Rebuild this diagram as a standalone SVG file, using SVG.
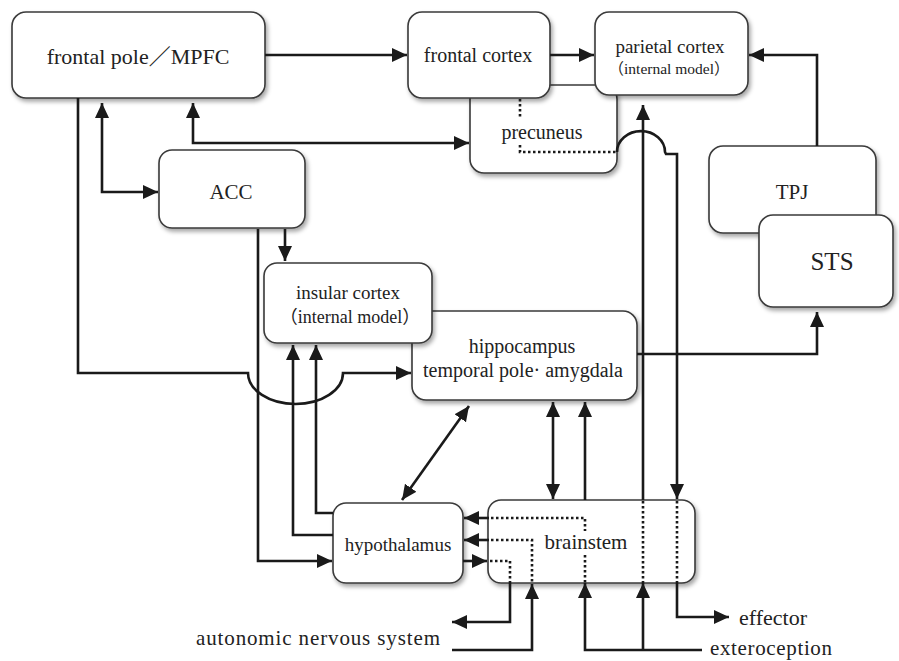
<svg xmlns="http://www.w3.org/2000/svg" width="899" height="661" viewBox="0 0 899 661">
<defs>
<filter id="sh" x="-10%" y="-10%" width="125%" height="130%">
<feDropShadow dx="2" dy="3" stdDeviation="2" flood-color="#000" flood-opacity="0.35"/>
</filter>
<marker id="ah" viewBox="0 0 15 14" refX="15" refY="7" markerWidth="15" markerHeight="14" markerUnits="userSpaceOnUse" orient="auto-start-reverse">
<path d="M0,0 L15,7 L0,14 z" fill="#1a1a1a"/>
</marker>
<style>
.box{fill:#fff;stroke:#3a3a3a;stroke-width:1.6;filter:url(#sh)}
.t{font-family:'Liberation Serif','Noto Sans CJK JP',serif;fill:#222;text-anchor:middle}
.c{fill:none;stroke:#1a1a1a;stroke-width:2.6}
.a{marker-end:url(#ah)}
.b{marker-start:url(#ah);marker-end:url(#ah)}
.d{fill:none;stroke:#1a1a1a;stroke-width:2.6;stroke-dasharray:2.5 2.5}
</style>
</defs>
<rect width="899" height="661" fill="#fff"/>

<g id="frontal-pole">
<rect class="box" x="12" y="12" width="253" height="86" rx="14"/>
<text class="t" x="138" y="64" font-size="22">frontal pole／MPFC</text>
</g>
<g id="precuneus">
<rect class="box" x="470" y="85" width="147" height="88" rx="14"/>
<text class="t" x="542" y="139" font-size="20">precuneus</text>
</g>
<g id="frontal-cortex">
<rect class="box" x="408" y="12" width="142" height="86" rx="14"/>
<text class="t" x="478" y="62" font-size="20">frontal cortex</text>
</g>
<g id="parietal-cortex">
<rect class="box" x="595" y="12" width="153" height="83" rx="14"/>
<text class="t" x="670" y="53" font-size="19">parietal cortex</text>
<text class="t" x="669" y="74" font-size="15.5">（internal model）</text>
</g>
<g id="acc">
<rect class="box" x="159" y="150" width="146" height="78" rx="13"/>
<text class="t" x="231" y="199" font-size="21">ACC</text>
</g>
<g id="tpj">
<rect class="box" x="709" y="146" width="167" height="87" rx="14"/>
<text class="t" x="792" y="199" font-size="21">TPJ</text>
</g>
<g id="sts">
<rect class="box" x="759" y="215" width="134" height="92" rx="14"/>
<text class="t" x="832" y="270" font-size="25">STS</text>
</g>
<g id="hippocampus">
<rect class="box" x="412" y="311" width="225" height="89" rx="14"/>
<text class="t" x="522" y="353" font-size="20">hippocampus</text>
<text class="t" x="523" y="377" font-size="20">temporal pole· amygdala</text>
</g>
<g id="insular-cortex">
<rect class="box" x="264" y="263" width="168" height="80" rx="13"/>
<text class="t" x="348" y="299" font-size="19">insular cortex</text>
<text class="t" x="350" y="323" font-size="18">（internal model）</text>
</g>
<g id="hypothalamus">
<rect class="box" x="333" y="503" width="130" height="80" rx="13"/>
<text class="t" x="398" y="551" font-size="19">hypothalamus</text>
</g>
<g id="brainstem">
<rect class="box" x="488" y="500" width="207" height="83" rx="13"/>
<text class="t" x="586" y="549" font-size="21">brainstem</text>
</g>

<g id="connectors">
<path class="c a" d="M265,55 H407"/>
<path class="c a" d="M550,55 H594"/>
<path class="c a" d="M817,146 V55 H749"/>
<path class="c b" d="M102,103 V192 H158"/>
<path class="c b" d="M193,103 V143 H469"/>
<path class="c a" d="M78,98 V373 H248 A47.5 31 0 0 0 343,373 H411"/>
<path class="c a" d="M285,229 V261"/>
<path class="c a" d="M258,229 V561 H332"/>
<path class="c a" d="M333,513 H316 V345"/>
<path class="c a" d="M333,535 H293 V345"/>
<path class="c a" d="M637,354 H817 V312"/>
<path class="c b" d="M469,406 L402,500"/>
<path class="c b" d="M553,402 V499"/>
<path class="c a" d="M585,500 V402"/>
<path class="c a" d="M702,650 H585 V583"/>
<path class="c a" d="M643,650 V583"/>
<path class="c a" d="M643,500 V105"/>
<path class="d" d="M520,99 V119"/>
<path class="d" d="M520,145 V152 H616"/>
<path class="c a" d="M617,152 A23 20 0 0 1 665,152 L666,154 H677 V499"/>
<path class="c a" d="M677,583 V617 H729"/>
<path class="c a" d="M510,583 V622 H452"/>
<path class="c a" d="M452,650 H532 V584"/>
<path class="c a" d="M489,518 H464"/>
<path class="c a" d="M489,540 H464"/>
<path class="c a" d="M463,561 H487"/>
<path class="d" d="M491,518 H585 V531"/>
<path class="d" d="M585,555 V583"/>
<path class="d" d="M491,540 H532 V583"/>
<path class="d" d="M490,561 H510 V583"/>
<path class="d" d="M643,501 V583"/>
<path class="d" d="M677,501 V583"/>
</g>

<g id="labels">
<text class="t" x="739" y="625" font-size="22" style="text-anchor:start">effector</text>
<text class="t" x="710" y="655" font-size="21" style="text-anchor:start" textLength="122">exteroception</text>
<text class="t" x="196" y="645" font-size="21" style="text-anchor:start" textLength="244">autonomic nervous system</text>
</g>
</svg>
